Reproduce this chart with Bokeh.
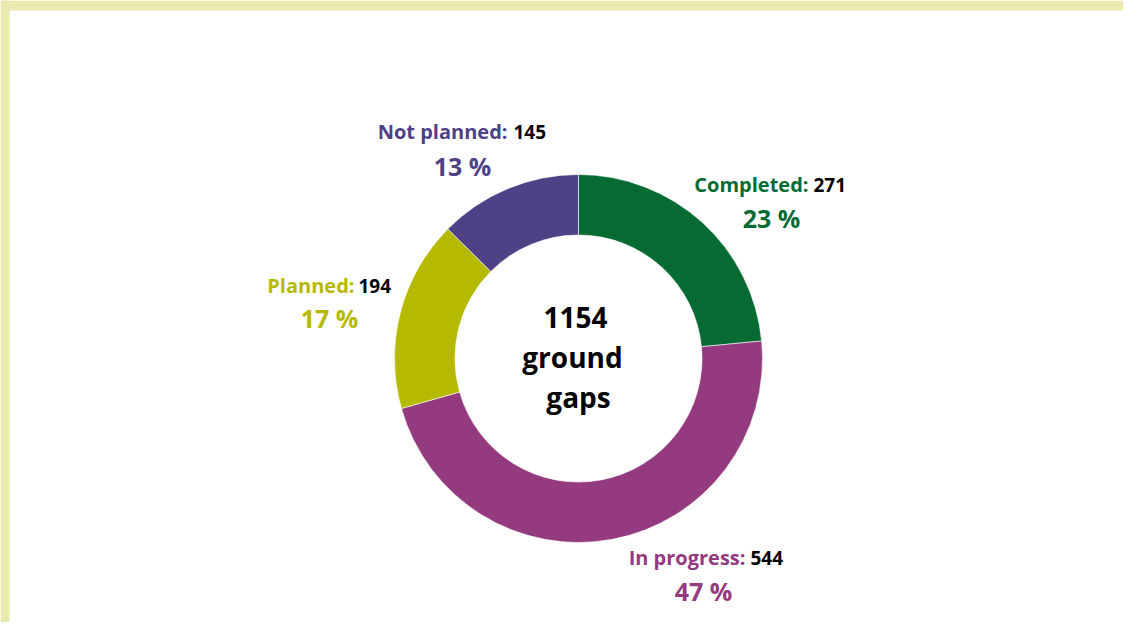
import numpy as np
from bokeh.plotting import figure
from bokeh.models import Range1d, ColumnDataSource
from bokeh.core.properties import value
from bokeh.embed import file_html
from bokeh.resources import INLINE

# ---- data ----
categories = ["Completed", "In progress", "Planned", "Not planned"]
counts = [271, 544, 194, 145]
colors = ["#066A33", "#943A7E", "#B5BA00", "#4E4186"]
center_word_1 = "ground"
center_word_2 = "gaps"

# ---- layout (pixel anchors, separate from data) ----
W, H = 1123, 622
def px(x):
    return x
def py(y):
    return H - y

cx, cy = px(578), py(358)
r_out, r_in = 184, 123.5

# label anchors: (name right edge, number left edge, line-1 baseline, pct center x, pct baseline)
label_layout = {
    "Completed":   (808, 813, 184, 771, 217),
    "In progress": (745, 750, 557, 703, 590),
    "Planned":     (354, 358, 285, 329, 317),
    "Not planned": (507, 513, 131, 462, 165),
}

total = sum(counts)
fr = np.array(counts) / total
cum = np.concatenate([[0], np.cumsum(fr)])
start = np.pi / 2 - cum[1:] * 2 * np.pi
end = np.pi / 2 - cum[:-1] * 2 * np.pi
pct = [f"{round(f * 100)} %" for f in fr]

p = figure(width=W, height=H, output_backend="svg", toolbar_location=None,
           x_range=Range1d(0, W), y_range=Range1d(0, H), min_border=0)
p.axis.visible = False
p.grid.visible = False
p.outline_line_color = None
p.background_fill_color = "white"
p.border_fill_color = "white"

# yellow frame bands (top and left)
band = "#E9E9B0"
p.quad(left=[0], right=[W], bottom=[py(10)], top=[H], fill_color=band, line_color=None)
p.quad(left=[0], right=[px(9)], bottom=[0], top=[H], fill_color=band, line_color=None)

src = ColumnDataSource(dict(cat=categories, start=start, end=end, color=colors))
p.annular_wedge(x=cx, y=cy, inner_radius=r_in, outer_radius=r_out,
                start_angle="start", end_angle="end", fill_color="color",
                line_color="white", line_width=0.6, source=src)

font = value("Open Sans")
for cat, n, col, pc in zip(categories, counts, colors, pct):
    nx, vx, b1, pcx, b2 = label_layout[cat]
    p.text(x=[px(nx)], y=[py(b1)], text=[cat + ":"], text_font=font, text_font_style="bold",
           text_font_size="20px", text_color=col, text_align="right", text_baseline="alphabetic")
    p.text(x=[px(vx)], y=[py(b1)], text=[str(n)], text_font=font, text_font_style="bold",
           text_font_size="19px", text_color="black", text_align="left", text_baseline="alphabetic")
    p.text(x=[px(pcx)], y=[py(b2)], text=[pc], text_font=font, text_font_style="bold",
           text_font_size="25px", text_color=col, text_align="center", text_baseline="alphabetic")

center_lines = [str(total), center_word_1, center_word_2]
center_x = [575, 572, 578]
center_b = [317, 356, 396]
for t, x, b in zip(center_lines, center_x, center_b):
    p.text(x=[px(x)], y=[py(b)], text=[t], text_font=font, text_font_style="bold",
           text_font_size="28px", text_color="black", text_align="center", text_baseline="alphabetic")

open("out.html", "w").write(file_html(p, INLINE))
